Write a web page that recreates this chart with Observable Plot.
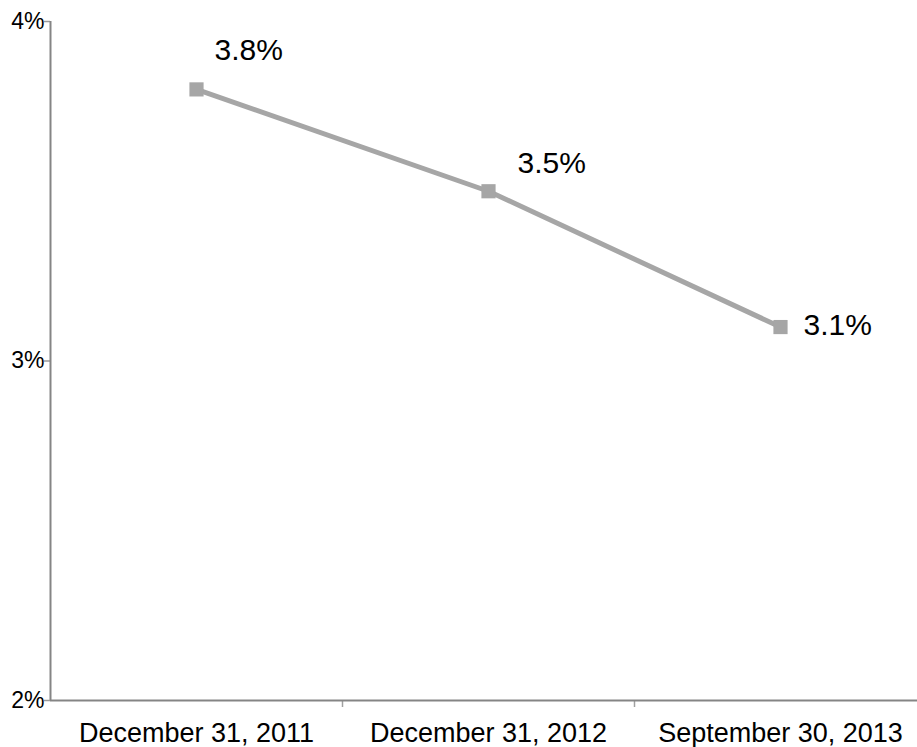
<!DOCTYPE html>
<html>
<head>
<meta charset="utf-8">
<script src="https://cdn.jsdelivr.net/npm/d3@7"></script>
<script src="https://cdn.jsdelivr.net/npm/@observablehq/plot@0.6"></script>
<style>
  body { margin: 0; background: #fff; }
</style>
</head>
<body>
<div id="chart"></div>
<script>
// Rate at each reporting date
const categories = ["December 31, 2011", "December 31, 2012", "September 30, 2013"];
const rates = [3.8, 3.5, 3.1];
const yTicks = [2, 3, 4];

const data = categories.map((category, index) => ({category, index, rate: rates[index]}));
const xCenter = d => d.index + 0.5;
const pct = d => d.rate.toFixed(1) + "%";
const axisGray = "#858585";
const seriesGray = "#a6a6a6";

const labelStyle = {x: xCenter, y: "rate", text: pct, textAnchor: "start", fontSize: 30, fill: "#000"};

const chart = Plot.plot({
  width: 917,
  height: 747,
  marginTop: 21,
  marginBottom: 47,
  marginLeft: 50,
  marginRight: 0,
  style: {fontFamily: "'Liberation Sans', Arial, sans-serif", background: "#fff"},
  x: {type: "linear", domain: [0, categories.length], range: [50, 926]},
  y: {domain: [2, 4]},
  marks: [
    // category labels under each slot, and short ticks on the slot boundaries
    Plot.axisX({
      ticks: categories.map((_, i) => i + 0.5),
      tickFormat: v => categories[Math.floor(v)],
      tickSize: 0, tickPadding: 22, fontSize: 27, fill: "#000", label: null
    }),
    Plot.axisX({
      ticks: d3.range(1, categories.length),
      tickFormat: () => "",
      tickSize: 7, stroke: "#a0a0a0", strokeWidth: 1.5, label: null
    }),
    // y ticks, with their percent labels set to the left of the axis line
    Plot.axisY({
      ticks: yTicks, tickFormat: () => "",
      tickSize: 6, stroke: "#9a9a9a", strokeWidth: 1.5, label: null
    }),
    Plot.text(yTicks, {
      x: 0, y: d => d, text: d => d + "%",
      textAnchor: "end", dx: -6, fontSize: 23, fill: "#000"
    }),
    Plot.ruleX([0], {stroke: axisGray, strokeWidth: 2}),
    Plot.ruleY([2], {stroke: axisGray, strokeWidth: 2}),
    Plot.line(data, {x: xCenter, y: "rate", stroke: seriesGray, strokeWidth: 5}),
    Plot.dot(data, {x: xCenter, y: "rate", symbol: "square", r: 8, fill: seriesGray, stroke: "none"}),
    Plot.text(data.slice(0, 1), {...labelStyle, dx: 18, dy: -39}),
    Plot.text(data.slice(1, 2), {...labelStyle, dx: 29, dy: -28}),
    Plot.text(data.slice(2, 3), {...labelStyle, dx: 23, dy: -2})
  ]
});

document.getElementById("chart").appendChild(chart);
</script>
</body>
</html>
